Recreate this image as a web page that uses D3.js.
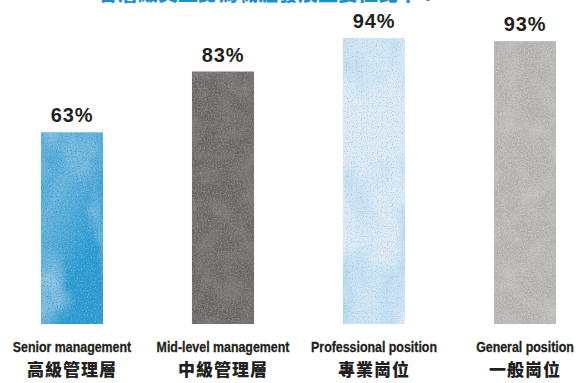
<!DOCTYPE html>
<html><head><meta charset="utf-8">
<script src="https://cdn.jsdelivr.net/npm/d3@7"></script>
<style>
html,body{margin:0;padding:0;background:#fff;overflow:hidden}
</style></head>
<body>
<svg id="chart" width="576" height="383"></svg>
<script>
const titleText = "各層級員工認為職涯發展重要性比率？";
const categoriesEn = ["Senior management", "Mid-level management", "Professional position", "General position"];
const categoriesZh = ["高級管理層", "中級管理層", "專業崗位", "一般崗位"];
const values = [63, 83, 94, 93];
const valueLabels = ["63%", "83%", "94%", "93%"];
const baseColors = ["#2b9bd2", "#6a6665", "#a9d4ef", "#b3b1b0"];
const cloudColors = ["#9fcbe6", "#8c8887", "#dfecf6", "#c9c7c6"];

const svg = d3.select("#chart");
const defs = svg.append("defs");

function makeFilter(id, freq, oct, seed, color, a, b) {
  const c = d3.color(color);
  const f = defs.append("filter").attr("id", id)
    .attr("x", 0).attr("y", 0).attr("width", 1).attr("height", 1)
    .attr("color-interpolation-filters", "sRGB");
  f.append("feTurbulence").attr("type", "fractalNoise")
    .attr("baseFrequency", freq).attr("numOctaves", oct).attr("seed", seed).attr("result", "n");
  f.append("feColorMatrix").attr("in", "n").attr("type", "matrix")
    .attr("values", `0 0 0 0 ${c.r/255} 0 0 0 0 ${c.g/255} 0 0 0 0 ${c.b/255} ${a} 0 0 0 ${b}`)
    .attr("result", "w");
  f.append("feComposite").attr("in", "w").attr("in2", "SourceGraphic").attr("operator", "in");
}

cloudColors.forEach((col, i) => {
  const lowFreq = (i === 0 || i === 2) ? "0.02 0.012" : "0.05";
  const lowA = (i === 0) ? 3.2 : (i === 2 ? 3.6 : 1.6);
  const lowB = (i === 0) ? -1.45 : (i === 2 ? -1.0 : -0.6);
  makeFilter("cloud" + i, lowFreq, 4, 7 + i, col, lowA, lowB);
  makeFilter("speck" + i, "0.7", 2, 3 + i, col, (i === 1 || i === 3) ? 2.6 : 1.6, (i === 1 || i === 3) ? -1.05 : -0.8);
  makeFilter("dark" + i, "0.8", 1, 11 + i, d3.color(baseColors[i]).darker(0.35).formatHex(), 2.2, -1.1);
});

// soft light centre for the pale blue bar, light right side for the blue bar
const grad3 = defs.append("linearGradient").attr("id", "glow2");
grad3.append("stop").attr("offset", "0%").attr("stop-color", "#fff").attr("stop-opacity", 0);
grad3.append("stop").attr("offset", "50%").attr("stop-color", "#e8f1f9").attr("stop-opacity", 0.6);
grad3.append("stop").attr("offset", "100%").attr("stop-color", "#fff").attr("stop-opacity", 0);
const grad1 = defs.append("linearGradient").attr("id", "glow0").attr("x1", 0).attr("y1", 0).attr("x2", 0.6).attr("y2", 1);
grad1.append("stop").attr("offset", "0%").attr("stop-color", "#b5d6ec").attr("stop-opacity", 0.1);
grad1.append("stop").attr("offset", "35%").attr("stop-color", "#b5d6ec").attr("stop-opacity", 0.45);
grad1.append("stop").attr("offset", "80%").attr("stop-color", "#b5d6ec").attr("stop-opacity", 0);

const x = d3.scaleBand().domain(categoriesEn)
  .range([-3.5, 600.5]).paddingInner(0.589).paddingOuter(0.2945);
const y = d3.scaleLinear().domain([0, 100]).range([324, 20]);

// title (mostly cut off at top, as in the source image)
svg.append("text").attr("x", 268).attr("y", 1)
  .attr("text-anchor", "middle")
  .attr("font-family", "'Noto Sans CJK TC', sans-serif").attr("font-weight", 900)
  .attr("font-size", 20).attr("fill", "#1b8fcd").text(titleText);

const g = svg.append("g");
const bars = g.selectAll("g.bar").data(values).join("g").attr("class", "bar");
bars.append("rect")
  .attr("x", (d, i) => x(categoriesEn[i])).attr("width", x.bandwidth())
  .attr("y", d => y(d)).attr("height", d => y(0) - y(d))
  .attr("fill", (d, i) => baseColors[i]);
bars.filter((d, i) => i === 0 || i === 2).append("rect")
  .attr("x", d => x(categoriesEn[values.indexOf(d)])).attr("width", x.bandwidth())
  .attr("y", d => y(d)).attr("height", d => y(0) - y(d))
  .attr("fill", d => `url(#glow${values.indexOf(d)})`);
["cloud", "dark", "speck"].forEach(k => {
  bars.append("rect")
    .attr("x", (d, i) => x(categoriesEn[i])).attr("width", x.bandwidth())
    .attr("y", d => y(d)).attr("height", d => y(0) - y(d))
    .attr("fill", "#000")
    .attr("filter", (d, i) => `url(#${k}${i})`);
});

// value labels
g.selectAll("text.val").data(values).join("text").attr("class", "val")
  .attr("x", (d, i) => x(categoriesEn[i]) + x.bandwidth() / 2)
  .attr("y", d => y(d) - 10)
  .attr("text-anchor", "middle")
  .attr("font-family", "'Liberation Sans', Arial, sans-serif").attr("font-weight", "bold")
  .attr("font-size", 20).attr("letter-spacing", 0.8).attr("fill", "#231f20")
  .text((d, i) => valueLabels[i]);

// English category labels (condensed)
g.selectAll("text.en").data(categoriesEn).join("text").attr("class", "en")
  .attr("transform", d => `translate(${x(d) + x.bandwidth() / 2},352) scale(0.8,1)`)
  .attr("text-anchor", "middle")
  .attr("font-family", "'Liberation Sans', Arial, sans-serif").attr("font-weight", "bold")
  .attr("font-size", 15.5).attr("fill", "#231f20")
  .attr("stroke", "#231f20").attr("stroke-width", 0.3)
  .text(d => d);

// Chinese category labels
g.selectAll("text.zh").data(categoriesZh).join("text").attr("class", "zh")
  .attr("x", (d, i) => x(categoriesEn[i]) + x.bandwidth() / 2)
  .attr("y", 376)
  .attr("text-anchor", "middle")
  .attr("font-family", "'Noto Sans CJK TC', sans-serif").attr("font-weight", 900)
  .attr("font-size", 17).attr("letter-spacing", 1).attr("fill", "#231f20")
  .text(d => d);
</script>
</body></html>
